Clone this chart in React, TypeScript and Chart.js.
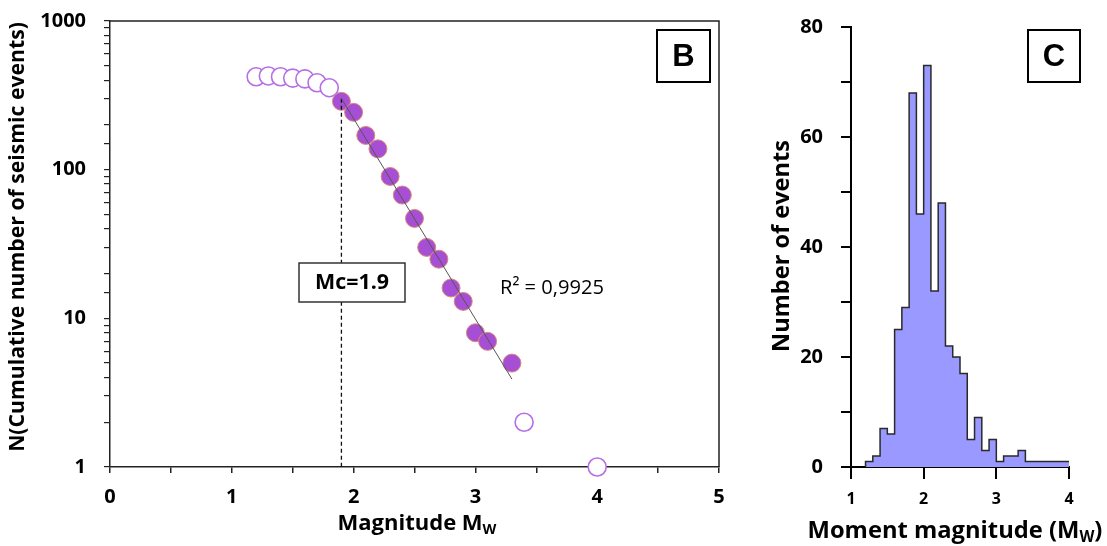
import React, { useEffect, useRef } from "react";
import { Chart, registerables } from "chart.js";
Chart.register(...registerables);

// ---------- Panel B data (Gutenberg-Richter) ----------
const openMag = [1.2, 1.3, 1.4, 1.5, 1.6, 1.7, 1.8, 3.4, 4.0];
const openN = [422, 427, 422, 413, 408, 384, 356, 2, 1];
const fitMag = [1.9, 2.0, 2.1, 2.2, 2.3, 2.4, 2.5, 2.6, 2.7, 2.8, 2.9, 3.0, 3.1, 3.3];
const fitN = [288, 243, 170, 138, 90, 67.5, 47, 30, 25, 16, 13, 8, 7, 5];
const trendMag = [1.9, 3.3];
const trendN = [301, 3.9];
const mcMag = [1.9, 1.9];
const mcN = [300, 1];
const magTickLabels = [0, 1, 2, 3, 4, 5];
const logTickLabels = [1, 10, 100, 1000];

// ---------- Panel C data (histogram) ----------
const binStart = [1.2, 1.3, 1.4, 1.5, 1.6, 1.7, 1.8, 1.9, 2.0, 2.1, 2.2, 2.3, 2.4, 2.5, 2.6, 2.7, 2.8, 2.9, 3.0, 3.1, 3.2, 3.3, 3.4, 3.5, 3.6, 3.7, 3.8, 3.9];
const binCount = [1, 2, 7, 6, 25, 29, 68, 46, 73, 32, 48, 22, 20, 17, 5, 9, 3, 5, 1, 2, 2, 3, 1, 1, 1, 1, 1, 1];
const binEnd = 4.0;
const countTickLabels = [0, 20, 40, 60, 80];
const momentTickLabels = [1, 2, 3, 4];

const FONT = "'Open Sans', Lato, sans-serif";
const AXIS = "#222";

// font size that makes `text` span `target` pixels
function fitSize(ctx: CanvasRenderingContext2D, text: string, weight: string, target: number) {
  ctx.font = `${weight} 20px ${FONT}`;
  return (20 * target) / ctx.measureText(text).width;
}

function drawSubTitle(ctx: CanvasRenderingContext2D, cx: number, y: number, main: string, sub: string, tail: string, target: number) {
  ctx.font = `bold 20px ${FONT}`;
  const wm = ctx.measureText(main).width + ctx.measureText(tail).width;
  ctx.font = `bold 13px ${FONT}`;
  const ws = ctx.measureText(sub).width;
  const k = target / (wm + ws);
  const sMain = 20 * k;
  const sSub = 13 * k;
  ctx.font = `bold ${sMain}px ${FONT}`;
  const w1 = ctx.measureText(main).width;
  ctx.font = `bold ${sSub}px ${FONT}`;
  const w2 = ctx.measureText(sub).width;
  let x = cx - target / 2;
  ctx.textAlign = "left";
  ctx.textBaseline = "alphabetic";
  ctx.fillStyle = "#000";
  ctx.font = `bold ${sMain}px ${FONT}`;
  ctx.fillText(main, x, y);
  x += w1;
  ctx.font = `bold ${sSub}px ${FONT}`;
  ctx.fillText(sub, x, y + sMain * 0.18);
  x += w2;
  if (tail) {
    ctx.font = `bold ${sMain}px ${FONT}`;
    ctx.fillText(tail, x, y);
  }
}

function drawRotated(ctx: CanvasRenderingContext2D, text: string, x: number, y: number, target: number) {
  const size = fitSize(ctx, text, "bold", target);
  ctx.save();
  ctx.translate(x, y);
  ctx.rotate(-Math.PI / 2);
  ctx.font = `bold ${size}px ${FONT}`;
  ctx.textAlign = "center";
  ctx.textBaseline = "middle";
  ctx.fillStyle = "#000";
  ctx.fillText(text, 0, 0);
  ctx.restore();
}

function drawLetterBox(ctx: CanvasRenderingContext2D, letter: string, x: number, y: number, w: number, h: number) {
  ctx.save();
  ctx.fillStyle = "#fff";
  ctx.fillRect(x, y, w, h);
  ctx.strokeStyle = "#000";
  ctx.lineWidth = 2;
  ctx.strokeRect(x, y, w, h);
  ctx.fillStyle = "#000";
  ctx.font = `bold 31px 'Liberation Sans', Arial, sans-serif`;
  ctx.textAlign = "center";
  ctx.textBaseline = "middle";
  ctx.fillText(letter, x + w / 2, y + h / 2 + 1);
  ctx.restore();
}

const panelBDecor = {
  id: "panelBDecor",
  afterDraw(chart: any) {
    const ctx: CanvasRenderingContext2D = chart.ctx;
    const a = chart.chartArea;
    ctx.save();
    // top and right frame
    ctx.strokeStyle = AXIS;
    ctx.lineWidth = 1.5;
    ctx.beginPath();
    ctx.moveTo(a.left, a.top);
    ctx.lineTo(a.right, a.top);
    ctx.lineTo(a.right, a.bottom);
    ctx.stroke();
    // Mc box
    ctx.fillStyle = "#fff";
    ctx.fillRect(299, 263, 106, 39);
    ctx.strokeStyle = "#333";
    ctx.lineWidth = 1.5;
    ctx.strokeRect(299, 263, 106, 39);
    ctx.fillStyle = "#000";
    const mcText = "Mc=1.9";
    ctx.font = `bold ${fitSize(ctx, mcText, "bold", 74)}px ${FONT}`;
    ctx.textAlign = "center";
    ctx.textBaseline = "middle";
    ctx.fillText(mcText, 352, 283);
    // R² label
    const rText = "R\u00B2 = 0,9925";
    ctx.font = `normal ${fitSize(ctx, rText, "normal", 104)}px ${FONT}`;
    ctx.textAlign = "left";
    ctx.fillText(rText, 500, 288);
    ctx.restore();
    // titles
    ctx.save();
    drawRotated(ctx, "N(Cumulative number of seismic events)", 18, 237, 430);
    drawSubTitle(ctx, 417, 530, "Magnitude M", "W", "", 159);
    ctx.restore();
    drawLetterBox(ctx, "B", 657, 30, 53, 52);
  },
};

const panelCDecor = {
  id: "panelCDecor",
  afterDraw(chart: any) {
    const ctx: CanvasRenderingContext2D = chart.ctx;
    ctx.save();
    drawRotated(ctx, "Number of events", 42, 246, 212);
    drawSubTitle(ctx, 215, 538, "Moment magnitude (M", "W", ")", 295);
    ctx.restore();
    drawLetterBox(ctx, "C", 288, 30, 52, 52);
  },
};

const isPow10 = (v: number) => {
  const l = Math.log10(v);
  return Math.abs(l - Math.round(l)) < 1e-9;
};

const noPad = (s: any) => {
  s.paddingTop = 0;
  s.paddingBottom = 0;
  s.paddingLeft = 0;
  s.paddingRight = 0;
};

export default function App() {
  const bRef = useRef<HTMLCanvasElement>(null);
  const cRef = useRef<HTMLCanvasElement>(null);

  useEffect(() => {
    const tickFont = { family: FONT, size: 20, weight: "bold" as const };
    const chartB = new Chart(bRef.current!, {
      type: "scatter",
      data: {
        datasets: [
          {
            label: "trend",
            type: "line",
            data: trendMag.map((x, i) => ({ x, y: trendN[i] })),
            borderColor: "#555",
            borderWidth: 1,
            pointRadius: 0,
            order: 0,
          } as any,
          {
            label: "Mc",
            type: "line",
            data: mcMag.map((x, i) => ({ x, y: mcN[i] })),
            borderColor: "#111",
            borderWidth: 1.3,
            borderDash: [4, 3],
            pointRadius: 0,
            order: 0,
          } as any,
          {
            label: "fit",
            data: fitMag.map((x, i) => ({ x, y: fitN[i] })),
            pointRadius: 9,
            backgroundColor: "#a64fd4",
            borderColor: "#d98a78",
            borderWidth: 1,
            order: 1,
          },
          {
            label: "open",
            data: openMag.map((x, i) => ({ x, y: openN[i] })),
            pointRadius: 9,
            backgroundColor: "#ffffff",
            borderColor: "#b66fe4",
            borderWidth: 1.6,
            order: 1,
            clip: false as any,
          },
        ],
      },
      options: {
        animation: false,
        responsive: false,
        maintainAspectRatio: false,
        layout: { padding: { left: 0, top: 21, right: 21, bottom: 0 } },
        plugins: { legend: { display: false }, tooltip: { enabled: false } },
        scales: {
          x: {
            type: "linear",
            min: 0,
            max: 5,
            ticks: {
              stepSize: 0.5,
              autoSkip: false,
              maxRotation: 0,
              padding: 12,
              color: "#000",
              font: tickFont,
              callback: (v: any) => (magTickLabels.includes(Number(v)) ? String(v) : ""),
            },
            grid: { drawOnChartArea: false, tickLength: 6, color: AXIS, tickColor: AXIS, lineWidth: 1.5 },
            border: { color: AXIS, width: 1.5 },
            afterFit: (s: any) => {
              s.height = 79;
              noPad(s);
            },
          },
          y: {
            type: "logarithmic",
            min: 1,
            max: 1000,
            ticks: {
              autoSkip: false,
              padding: 18,
              color: "#000",
              font: tickFont,
              callback: (v: any) => (isPow10(Number(v)) && logTickLabels.includes(Number(v)) ? String(v) : ""),
            },
            grid: { drawOnChartArea: false, tickLength: 6, color: AXIS, tickColor: AXIS, lineWidth: 1.2 },
            border: { color: AXIS, width: 1.5 },
            afterFit: (s: any) => {
              s.width = 110;
              noPad(s);
            },
          },
        },
      } as any,
      plugins: [panelBDecor],
    });

    const histData = [{ x: binStart[0], y: 0 }]
      .concat(binStart.map((x, i) => ({ x, y: binCount[i] })))
      .concat([{ x: binEnd, y: binCount[binCount.length - 1] }]);

    const chartC = new Chart(cRef.current!, {
      type: "line",
      data: {
        datasets: [
          {
            label: "events",
            data: histData,
            stepped: "before",
            fill: "origin",
            backgroundColor: "#9999ff",
            borderColor: "#2a2a2a",
            borderWidth: 1.5,
            pointRadius: 0,
          } as any,
        ],
      },
      options: {
        animation: false,
        responsive: false,
        maintainAspectRatio: false,
        layout: { padding: { left: 0, top: 27, right: 38, bottom: 0 } },
        plugins: { legend: { display: false }, tooltip: { enabled: false } },
        scales: {
          x: {
            type: "linear",
            min: 1,
            max: 4,
            ticks: {
              stepSize: 1,
              autoSkip: false,
              maxRotation: 0,
              padding: 11,
              color: "#000",
              font: { family: FONT, size: 16, weight: "bold" },
              callback: (v: any) => (momentTickLabels.includes(Number(v)) ? String(v) : ""),
            },
            grid: { drawOnChartArea: false, tickLength: 12, color: "#000", tickColor: "#000", lineWidth: 2 },
            border: { color: "#000", width: 2 },
            afterFit: (s: any) => {
              s.height = 79;
              noPad(s);
            },
          },
          y: {
            type: "linear",
            min: 0,
            max: 80,
            ticks: {
              stepSize: 10,
              autoSkip: false,
              padding: 18,
              color: "#000",
              font: tickFont,
              callback: (v: any) => (countTickLabels.includes(Number(v)) ? String(v) : ""),
            },
            grid: { drawOnChartArea: false, tickLength: 10, color: "#000", tickColor: "#000", lineWidth: 2 },
            border: { color: "#000", width: 2 },
            afterFit: (s: any) => {
              s.width = 111;
              noPad(s);
            },
          },
        },
      } as any,
      plugins: [panelCDecor],
    });

    return () => {
      chartB.destroy();
      chartC.destroy();
    };
  }, []);

  return (
    <div style={{ position: "fixed", left: 0, top: 0, width: 1107, height: 546, background: "#fff" }}>
      <canvas ref={bRef} width={740} height={546} style={{ position: "absolute", left: 0, top: 0, width: 740, height: 546 }} />
      <canvas ref={cRef} width={367} height={546} style={{ position: "absolute", left: 740, top: 0, width: 367, height: 546 }} />
    </div>
  );
}
